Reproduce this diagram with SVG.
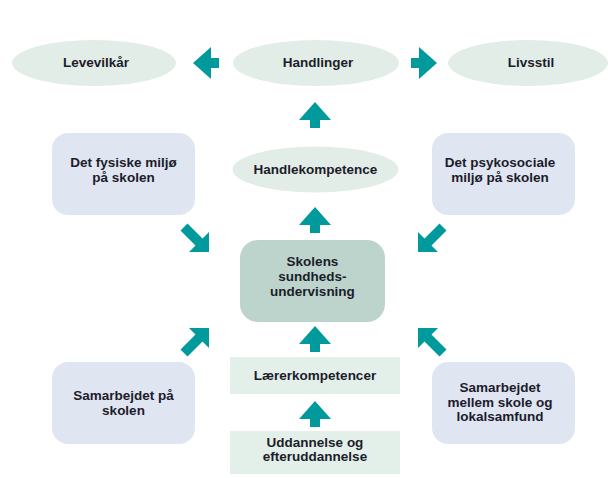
<svg xmlns="http://www.w3.org/2000/svg" xmlns:xlink="http://www.w3.org/1999/xlink" width="613" height="478" viewBox="0 0 613 478">
<style>
  .ell { fill: #e2ede7; }
  .lav { fill: #dfe5f1; }
  .core { fill: #bdd4cd; }
  .pale { fill: #e3efe9; }
  .arr { fill: #009a9c; }
  text { font-family: "Liberation Sans", Arial, sans-serif; font-weight: bold; font-size: 13.5px; fill: #1c1c2a; text-anchor: middle; }
</style>
<defs>
  <polygon id="up" points="0,0 16,18 5,18 5,26 -5,26 -5,18 -16,18"/>
  <polygon id="diag" points="0,0 0,-20 -6.5,-13.5 -21.5,-28.5 -28.5,-21.5 -13.5,-6.5 -20,0"/>
</defs>
<rect width="613" height="478" fill="#ffffff"/>

<g id="levevilkar">
  <ellipse class="ell" cx="94" cy="63" rx="82" ry="23"/>
  <text x="96" y="67">Levevilkår</text>
</g>
<g id="handlinger">
  <ellipse class="ell" cx="316" cy="63" rx="83" ry="23"/>
  <text x="318" y="67">Handlinger</text>
</g>
<g id="livsstil">
  <ellipse class="ell" cx="528" cy="63" rx="80" ry="23"/>
  <text x="531" y="67">Livsstil</text>
</g>
<g id="handlekompetence">
  <ellipse class="ell" cx="315.5" cy="169.5" rx="83" ry="23"/>
  <text x="315.5" y="174">Handlekompetence</text>
</g>
<g id="fysiske">
  <rect class="lav" x="52" y="133" width="143" height="82" rx="16"/>
  <text x="123.5" y="167">Det fysiske miljø</text>
  <text x="123.5" y="182">på skolen</text>
</g>
<g id="psykosociale">
  <rect class="lav" x="432" y="133" width="143" height="82" rx="16"/>
  <text x="500" y="167">Det psykosociale</text>
  <text x="500" y="182">miljø på skolen</text>
</g>
<g id="skolens">
  <rect class="core" x="240" y="240" width="145" height="82" rx="18"/>
  <text x="312.5" y="266">Skolens</text>
  <text x="312.5" y="281">sundheds-</text>
  <text x="312.5" y="296">undervisning</text>
</g>
<g id="samarbejdet-skolen">
  <rect class="lav" x="52" y="362" width="143" height="82" rx="16"/>
  <text x="123.5" y="400">Samarbejdet på</text>
  <text x="123.5" y="415">skolen</text>
</g>
<g id="samarbejdet-lokalsamfund">
  <rect class="lav" x="432" y="362" width="143" height="82" rx="16"/>
  <text x="500" y="392">Samarbejdet</text>
  <text x="500" y="407">mellem skole og</text>
  <text x="500" y="421">lokalsamfund</text>
</g>
<g id="laererkompetencer">
  <rect class="pale" x="230" y="357" width="170" height="37"/>
  <text x="315" y="380">Lærerkompetencer</text>
</g>
<g id="uddannelse">
  <rect class="pale" x="230" y="431" width="170" height="43"/>
  <text x="315" y="447">Uddannelse og</text>
  <text x="315" y="461">efteruddannelse</text>
</g>

<g id="connectors" class="arr">
  <use xlink:href="#up" transform="translate(193,63) rotate(-90)"/>
  <use xlink:href="#up" transform="translate(437,63) rotate(90)"/>
  <use xlink:href="#up" transform="translate(315,102)"/>
  <use xlink:href="#up" transform="translate(315,207)"/>
  <use xlink:href="#up" transform="translate(315,326)"/>
  <use xlink:href="#up" transform="translate(315,401)"/>
  <use xlink:href="#diag" transform="translate(209,252)"/>
  <use xlink:href="#diag" transform="translate(418,252) scale(-1,1)"/>
  <use xlink:href="#diag" transform="translate(209,328) scale(1,-1)"/>
  <use xlink:href="#diag" transform="translate(418,328) scale(-1,-1)"/>
</g>
</svg>
